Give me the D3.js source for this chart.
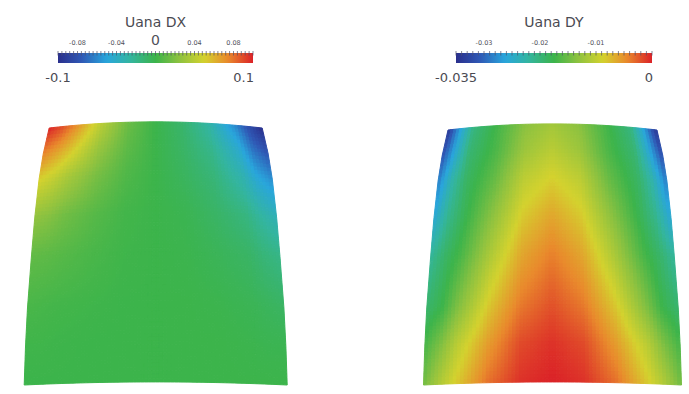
<!DOCTYPE html>
<html>
<head>
<meta charset="utf-8">
<script src="https://cdn.jsdelivr.net/npm/d3@7"></script>
<style>
  html, body { margin: 0; padding: 0; background: #ffffff; }
  svg { display: block; }
</style>
</head>
<body>
<svg id="chart" width="689" height="394"></svg>
<script>
// ---------------- DATA ----------------
// mesh columns: normalised position across the width (-1 left edge .. 1 right edge)
const meshCols = [-1, -0.875, -0.75, -0.5, -0.25, 0, 0.25, 0.5, 0.75, 0.875, 1];
// mesh rows: normalised depth from the top edge (0) to the bottom edge (1)
const meshRows = [0, 0.1, 0.2, 0.35, 0.5, 0.7, 0.85, 1];
// half width of the deformed body at each mesh row (relative to bottom half width)
const outlineHalfWidth = [0.81, 0.855, 0.887, 0.92, 0.945, 0.975, 0.99, 1.0];
// arch of the top and bottom edges (relative to the height)
const outlineArch = [0.024, 0.012];

// Uana DX nodal values (rows x cols)
const dxValues = [
  [0.100, 0.090, 0.074, 0.040, 0.014, 0.000, -0.010, -0.028, -0.060, -0.082, -0.100],
  [0.076, 0.066, 0.054, 0.028, 0.010, 0.000, -0.008, -0.020, -0.044, -0.066, -0.078],
  [0.052, 0.044, 0.034, 0.018, 0.006, 0.000, -0.006, -0.014, -0.032, -0.048, -0.058],
  [0.026, 0.022, 0.016, 0.008, 0.002, 0.000, -0.002, -0.008, -0.016, -0.026, -0.034],
  [0.011, 0.010, 0.008, 0.004, 0.001, 0.000, -0.001, -0.004, -0.008, -0.014, -0.018],
  [0.004, 0.003, 0.002, 0.001, 0.000, 0.000, 0.000, -0.001, -0.003, -0.005, -0.007],
  [0.001, 0.001, 0.0005, 0.000, 0.000, 0.000, 0.000, 0.000, -0.001, -0.002, -0.002],
  [0.000, 0.000, 0.000, 0.000, 0.000, 0.000, 0.000, 0.000, 0.000, 0.000, 0.000]
];
// Uana DY nodal values (rows x cols)
const dyValues = [
  [-0.0343, -0.0263, -0.0203, -0.0168, -0.0133, -0.0119, -0.0133, -0.0168, -0.0203, -0.0263, -0.0343],
  [-0.0315, -0.0252, -0.0196, -0.0165, -0.0123, -0.0105, -0.0123, -0.0165, -0.0196, -0.0252, -0.0315],
  [-0.0287, -0.0228, -0.0189, -0.0154, -0.0105, -0.0088, -0.0105, -0.0154, -0.0189, -0.0228, -0.0287],
  [-0.0256, -0.0210, -0.0182, -0.0133, -0.0084, -0.0063, -0.0084, -0.0133, -0.0182, -0.0210, -0.0256],
  [-0.0217, -0.0189, -0.0168, -0.0112, -0.0063, -0.0042, -0.0063, -0.0112, -0.0168, -0.0189, -0.0217],
  [-0.0193, -0.0175, -0.0140, -0.0081, -0.0039, -0.0021, -0.0039, -0.0081, -0.0140, -0.0175, -0.0193],
  [-0.0168, -0.0140, -0.0105, -0.0056, -0.0018, -0.0007, -0.0018, -0.0056, -0.0105, -0.0140, -0.0168],
  [-0.0147, -0.0112, -0.0084, -0.0035, -0.0007, 0.0000, -0.0007, -0.0035, -0.0084, -0.0112, -0.0147]
];

const dxRange = [-0.1, 0.1];
const dyRange = [-0.035, 0];
const dxTickLabels = ["-0.08", "-0.04", "0", "0.04", "0.08"];
const dxTickValues = [-0.08, -0.04, 0, 0.04, 0.08];
const dyTickLabels = ["-0.03", "-0.02", "-0.01"];
const dyTickValues = [-0.03, -0.02, -0.01];
const dxEndLabels = ["-0.1", "0.1"];
const dyEndLabels = ["-0.035", "0"];
const dxMinorStep = 0.004;
const dyMinorStep = 0.001;

// colour map (fraction of range -> colour)
const cmapStops = [0, 0.12, 0.25, 0.37, 0.5, 0.62, 0.75, 0.87, 1];
const cmapColors = ["#2a2f8c", "#2f58b5", "#29a6dc", "#33b5a0", "#3cb44b", "#8cc240", "#d4d22e", "#e98a2c", "#db2228"];

// ---------------- RENDER ----------------
const svg = d3.select("#chart");
svg.append("rect").attr("width", 689).attr("height", 394).attr("fill", "#fff");

const fontFam = "'DejaVu Sans', 'Open Sans', sans-serif";

function makeColor(range) {
  const dom = cmapStops.map(f => range[0] + f * (range[1] - range[0]));
  return d3.scaleLinear().domain(dom).range(cmapColors).interpolate(d3.interpolateRgb).clamp(true);
}

const colIndex = d3.scaleLinear().domain(meshCols).range(d3.range(meshCols.length));
const rowIndex = d3.scaleLinear().domain(meshRows).range(d3.range(meshRows.length));
const halfWidthAt = d3.scaleLinear().domain(meshRows).range(outlineHalfWidth);

function sample(values, u, s) {
  const ci = colIndex(u), ri = rowIndex(s);
  const c0 = Math.min(Math.floor(ci), meshCols.length - 2), r0 = Math.min(Math.floor(ri), meshRows.length - 2);
  const fc = ci - c0, fr = ri - r0;
  const a = values[r0][c0], b = values[r0][c0 + 1], c = values[r0 + 1][c0], d = values[r0 + 1][c0 + 1];
  return (a * (1 - fc) + b * fc) * (1 - fr) + (c * (1 - fc) + d * fc) * fr;
}

function drawField(panel) {
  const g = svg.append("g");
  const x = d3.scaleLinear().domain([-1, 1]).range([panel.cx - panel.hw, panel.cx + panel.hw]);
  const y = d3.scaleLinear().domain([0, 1]).range([panel.yBottom, panel.yTop]);
  const color = makeColor(panel.range);
  const pos = (u, s) => {
    const hw = halfWidthAt(s);
    const arch = (outlineArch[0] * (1 - s) + outlineArch[1] * s) * (1 - u * u);
    return [x(u * hw), y(1 - s + arch)];
  };
  const NU = 70, NS = 70;
  const uS = d3.scaleLinear().domain([0, NU]).range([-1, 1]);
  const sS = d3.scaleLinear().domain([0, NS]).range([0, 1]);
  const cells = [];
  for (let j = 0; j < NS; j++) {
    for (let i = 0; i < NU; i++) {
      const u0 = uS(i), u1 = uS(i + 1), s0 = sS(j), s1 = sS(j + 1);
      const p = [pos(u0, s0), pos(u1, s0), pos(u1, s1), pos(u0, s1)];
      const v = sample(panel.values, (u0 + u1) / 2, (s0 + s1) / 2);
      cells.push({ p, c: color(v) });
    }
  }
  g.selectAll("path").data(cells).join("path")
    .attr("d", d => "M" + d.p.map(q => q[0].toFixed(2) + "," + q[1].toFixed(2)).join("L") + "Z")
    .attr("fill", d => d.c)
    .attr("stroke", d => d.c)
    .attr("stroke-width", 1)
    .attr("stroke-linejoin", "round");
}

function drawColorbar(bar, idx) {
  const g = svg.append("g");
  const color = makeColor(bar.range);
  const sx = d3.scaleLinear().domain(bar.range).range([bar.x0, bar.x1]);
  const gid = "cbgrad" + idx;
  const grad = svg.append("defs").append("linearGradient").attr("id", gid)
    .attr("x1", "0%").attr("x2", "100%").attr("y1", "0%").attr("y2", "0%");
  d3.range(0, 1.0001, 0.02).forEach(f => {
    grad.append("stop").attr("offset", (f * 100) + "%")
      .attr("stop-color", color(bar.range[0] + f * (bar.range[1] - bar.range[0])));
  });
  g.append("rect").attr("x", bar.x0).attr("y", bar.y).attr("width", bar.x1 - bar.x0).attr("height", bar.h)
    .attr("fill", "url(#" + gid + ")");
  // minor ticks
  const n = Math.round((bar.range[1] - bar.range[0]) / bar.minor);
  const minor = d3.range(n + 1).map(k => bar.range[0] + k * bar.minor);
  g.selectAll("line.minor").data(minor).join("line").attr("class", "minor")
    .attr("x1", d => sx(d)).attr("x2", d => sx(d))
    .attr("y1", bar.y - 2).attr("y2", bar.y + 2.5)
    .attr("stroke", "#50506a").attr("stroke-width", 0.7);
  // labelled ticks
  g.selectAll("text.tl").data(bar.tickValues).join("text").attr("class", "tl")
    .attr("x", d => sx(d)).attr("y", bar.y - 8)
    .attr("text-anchor", "middle")
    .attr("font-family", fontFam)
    .attr("font-size", (d, i) => bar.tickLabels[i] === "0" ? 14 : 6.5)
    .attr("fill", "#50505a")
    .text((d, i) => bar.tickLabels[i]);
  // end labels
  g.append("text").attr("x", bar.x0).attr("y", bar.y + 29).attr("text-anchor", "middle")
    .attr("font-family", fontFam).attr("font-size", 13).attr("fill", "#4a4a52").text(bar.endLabels[0]);
  g.append("text").attr("x", bar.x1 + 1).attr("y", bar.y + 29).attr("text-anchor", "end")
    .attr("font-family", fontFam).attr("font-size", 13).attr("fill", "#4a4a52").text(bar.endLabels[1]);
  // title
  g.append("text").attr("x", (bar.x0 + bar.x1) / 2).attr("y", 27).attr("text-anchor", "middle")
    .attr("font-family", fontFam).attr("font-size", 14).attr("fill", "#4a4a52").text(bar.title);
}

drawField({ values: dxValues, range: dxRange, cx: 155.7, hw: 131.5, yTop: 128, yBottom: 385 });
drawField({ values: dyValues, range: dyRange, cx: 552.5, hw: 129, yTop: 130, yBottom: 385 });

drawColorbar({ title: "Uana DX", range: dxRange, x0: 58, x1: 253, y: 53, h: 10,
  minor: dxMinorStep, tickValues: dxTickValues, tickLabels: dxTickLabels, endLabels: dxEndLabels }, 0);
drawColorbar({ title: "Uana DY", range: dyRange, x0: 456, x1: 652, y: 53, h: 10,
  minor: dyMinorStep, tickValues: dyTickValues, tickLabels: dyTickLabels, endLabels: dyEndLabels }, 1);
</script>
</body>
</html>
